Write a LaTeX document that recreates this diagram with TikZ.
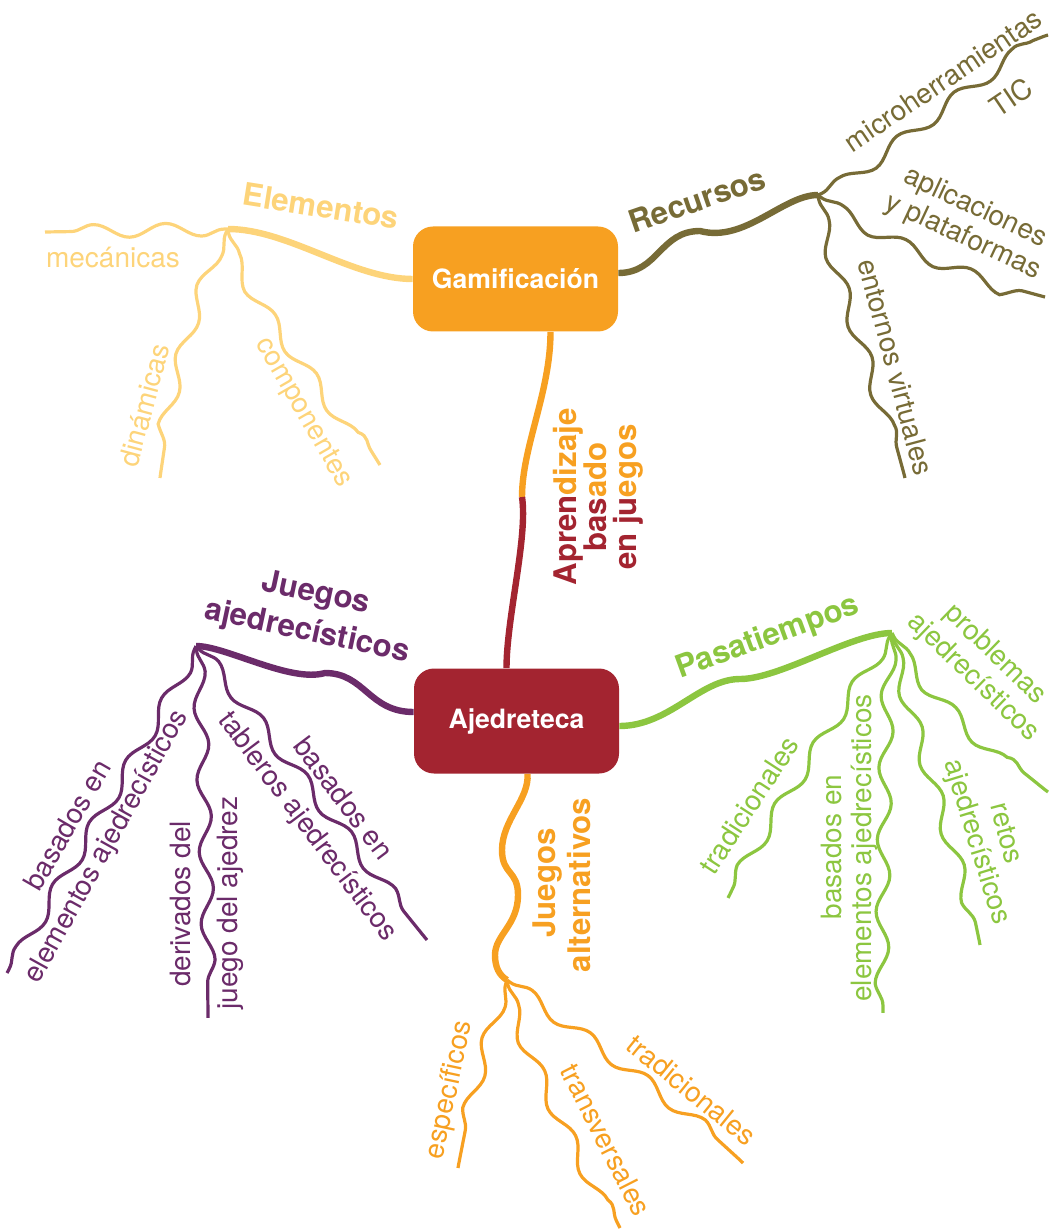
\documentclass[tikz,border=0pt]{standalone}
\usepackage{fontspec}
\setmainfont{TeX Gyre Heros}
\usetikzlibrary{calc,decorations.pathmorphing}

\definecolor{gamorange}{HTML}{F7A021}
\definecolor{ajered}{HTML}{A32430}
\definecolor{elemyellow}{HTML}{FDD47A}
\definecolor{recolive}{HTML}{776B36}
\definecolor{jajpurple}{HTML}{6B2B6A}
\definecolor{pasgreen}{HTML}{8CC640}

\begin{document}
\begin{tikzpicture}[x=0.5pt, y=-0.5pt,
        mainbox/.style={rounded corners=10pt, minimum width=102.5pt, minimum height=52.5pt,
            inner sep=0pt, text=white, font=\fontsize{13.3}{13.3}\selectfont\bfseries},
        branchlbl/.style={inner sep=0pt, font=\fontsize{15.6}{15}\selectfont\bfseries},
        leaf/.style={inner sep=0pt, font=\fontsize{14}{14}\selectfont},
        stem/.style={line width=3.2pt},
        twig/.style={line width=1.6pt, decorate,
            decoration={snake, segment length=36pt, amplitude=3.3pt, pre length=2pt, post length=2pt}}]

    % the frame
    \useasboundingbox (0,0) rectangle (1058,1229);

    % the boxes
    \node[mainbox, fill=gamorange] (gam) at (515.5,279) {Gamificación};
    \node[mainbox, fill=ajered] (aje) at (516.5,721) {Ajedreteca};

    % the junctions
    \coordinate (elemJ) at (228,229);
    \coordinate (rec1) at (700,231);
    \coordinate (recJ) at (818,195);
    \coordinate (abjM) at (522,497);
    \coordinate (jaj1) at (325,673);
    \coordinate (jajJ) at (196,646);
    \coordinate (pas1) at (740,679);
    \coordinate (pasJ) at (892,633);
    \coordinate (jal1) at (502,850);
    \coordinate (jal2) at (518,895);
    \coordinate (jal3) at (495,955);
    \coordinate (jalJ) at (507,980);

    % the free ends
    \coordinate (mecE) at (45,232);
    \coordinate (dinE) at (160,478);
    \coordinate (comE) at (380,465);
    \coordinate (micE) at (1048,35);
    \coordinate (aplE) at (1045,297);
    \coordinate (entE) at (905,478);
    \coordinate (bas1E) at (7,973);
    \coordinate (derE) at (208,1018);
    \coordinate (tabE) at (427,940);
    \coordinate (traE) at (728,898);
    \coordinate (bas3E) at (883,1013);
    \coordinate (retE) at (980,945);
    \coordinate (proE) at (1048,792);
    \coordinate (espE) at (458,1168);
    \coordinate (trvE) at (620,1228);
    \coordinate (tra2E) at (743,1163);

    % the stems
    \draw[stem, elemyellow] (gam.west) .. controls +(-60,0) and +(60,0) .. (elemJ);
    \draw[stem, recolive] ($(gam.east)+(0,-6)$) .. controls +(40,0) and +(-40,0) .. (rec1)
        .. controls +(45,12) and +(-35,0) .. (recJ);
    \draw[stem, gamorange] ($(gam.south)+(35,0)$) .. controls +(0,60) and +(0,-50) .. (abjM);
    \draw[stem, ajered] (abjM) .. controls +(6,40) and +(0,-50) .. ($(aje.north)+(-10,0)$);
    \draw[stem, jajpurple] ($(aje.west)+(0,-9)$) .. controls +(-45,0) and +(40,0) .. (jaj1)
        .. controls +(-35,10) and +(30,0) .. (jajJ);
    \draw[stem, pasgreen] ($(aje.east)+(0,5)$) .. controls +(50,0) and +(-40,0) .. (pas1)
        .. controls +(40,0) and +(-40,0) .. (pasJ);
    \draw[stem, gamorange] ($(aje.south)+(11,0)$) .. controls +(2,25) and +(0,-30) .. (jal1)
        .. controls +(0,25) and +(0,-25) .. (jal2) .. controls +(0,30) and +(0,-20) .. (jal3)
        .. controls +(0,12) and +(-8,-5) .. (jalJ);

    % the twigs
    \draw[twig, elemyellow] (elemJ) -- (mecE);
    \foreach \e/\ax/\ay/\bx/\by in {dinE/-15/25/10/-80, comE/0/30/-50/-80}
        \draw[twig, elemyellow] (elemJ) .. controls +(\ax,\ay) and +(\bx,\by) .. (\e);
    \foreach \e/\ax/\ay/\bx/\by in {micE/30/-10/-40/10, aplE/25/22/-60/-15, entE/5/40/-20/-80}
        \draw[twig, recolive] (recJ) .. controls +(\ax,\ay) and +(\bx,\by) .. (\e);
    \foreach \e/\ax/\ay/\bx/\by in {bas1E/-15/35/30/-55, derE/5/40/0/-60, tabE/20/20/-50/-60}
        \draw[twig, jajpurple] (jajJ) .. controls +(\ax,\ay) and +(\bx,\by) .. (\e);
    \foreach \e/\ax/\ay/\bx/\by in {traE/-20/30/30/-60, bas3E/-5/40/0/-60, retE/5/40/-10/-60, proE/15/35/-40/-30}
        \draw[twig, pasgreen] (pasJ) .. controls +(\ax,\ay) and +(\bx,\by) .. (\e);
    \foreach \e/\ax/\ay/\bx/\by in {espE/-10/30/10/-60, trvE/5/40/-30/-60, tra2E/20/15/-50/-50}
        \draw[twig, gamorange] (jalJ) .. controls +(\ax,\ay) and +(\bx,\by) .. (\e);

    % the split label
    \begin{scope}
        \clip (550,380) rectangle (660,497);
        \node[branchlbl, rotate=90, align=center, text=gamorange] (abjT) at (598,497) {Aprendizaje\\basado\\en juegos};
    \end{scope}
    \begin{scope}
        \clip (550,497) rectangle (660,620);
        \node[branchlbl, rotate=90, align=center, text=ajered] (abjB) at (598,497) {Aprendizaje\\basado\\en juegos};
    \end{scope}

    % labels, elementos
    \node[branchlbl, text=elemyellow, rotate=-9] (elemL) at (321,206) {Elementos};
    \node[leaf, text=elemyellow] (mec) at (113,258) {mecánicas};
    \node[leaf, text=elemyellow, rotate=75] (din) at (144,405) {dinámicas};
    \node[leaf, text=elemyellow, rotate=-60] (com) at (303,413) {componentes};

    % labels, recursos
    \node[branchlbl, text=recolive, rotate=19] (recL) at (697,200) {Recursos};
    \node[leaf, text=recolive, rotate=34] (mic) at (943,80) {microherramientas};
    \node[leaf, text=recolive, rotate=34] (tic) at (1011,97) {TIC};
    \node[leaf, text=recolive, rotate=-25] (apl) at (975,208) {aplicaciones};
    \node[leaf, text=recolive, rotate=-25] (ypl) at (963,237) {y plataformas};
    \node[leaf, text=recolive, rotate=-75] (ent) at (896,367) {entornos virtuales};

    % labels, juegos ajedrecisticos
    \node[branchlbl, text=jajpurple, rotate=-12] (jajA) at (316,594) {Juegos};
    \node[branchlbl, text=jajpurple, rotate=-12] (jajB) at (307,632) {ajedrecísticos};
    \node[leaf, text=jajpurple, rotate=60] (bas1) at (67,825) {basados en};
    \node[leaf, text=jajpurple, rotate=61] (ele1) at (107,847) {elementos ajedrecísticos};
    \node[leaf, text=jajpurple, rotate=90] (der) at (181,904) {derivados del};
    \node[leaf, text=jajpurple, rotate=90] (jue) at (230,903) {juego del ajedrez};
    \node[leaf, text=jajpurple, rotate=-53] (tab) at (307,827) {tableros ajedrecísticos};
    \node[leaf, text=jajpurple, rotate=-53] (bas2) at (344,798) {basados en};

    % labels, pasatiempos
    \node[branchlbl, text=pasgreen, rotate=20] (pasL) at (768,638) {Pasatiempos};
    \node[leaf, text=pasgreen, rotate=57] (tra1) at (749,805) {tradicionales};
    \node[leaf, text=pasgreen, rotate=90] (bas3) at (831,847) {basados en};
    \node[leaf, text=pasgreen, rotate=90] (ele2) at (864,848) {elementos ajedrecísticos};
    \node[leaf, text=pasgreen, rotate=-75] (ret) at (1007,833) {retos};
    \node[leaf, text=pasgreen, rotate=-73] (aje2) at (976,842) {ajedrecísticos};
    \node[leaf, text=pasgreen, rotate=-44] (pro) at (995,655) {problemas};
    \node[leaf, text=pasgreen, rotate=-44] (aje3) at (973,678) {ajedrecísticos};

    % labels, juegos alternativos
    \node[branchlbl, text=gamorange, rotate=90] (jalA) at (548,883) {Juegos};
    \node[branchlbl, text=gamorange, rotate=90] (jalB) at (579,885) {alternativos};
    \node[leaf, text=gamorange, rotate=78] (esp) at (450,1090) {específicos};
    \node[leaf, text=gamorange, rotate=-63] (trv) at (606,1140) {transversales};
    \node[leaf, text=gamorange, rotate=-39] (tra2) at (692,1090) {tradicionales};

\end{tikzpicture}
\end{document}
